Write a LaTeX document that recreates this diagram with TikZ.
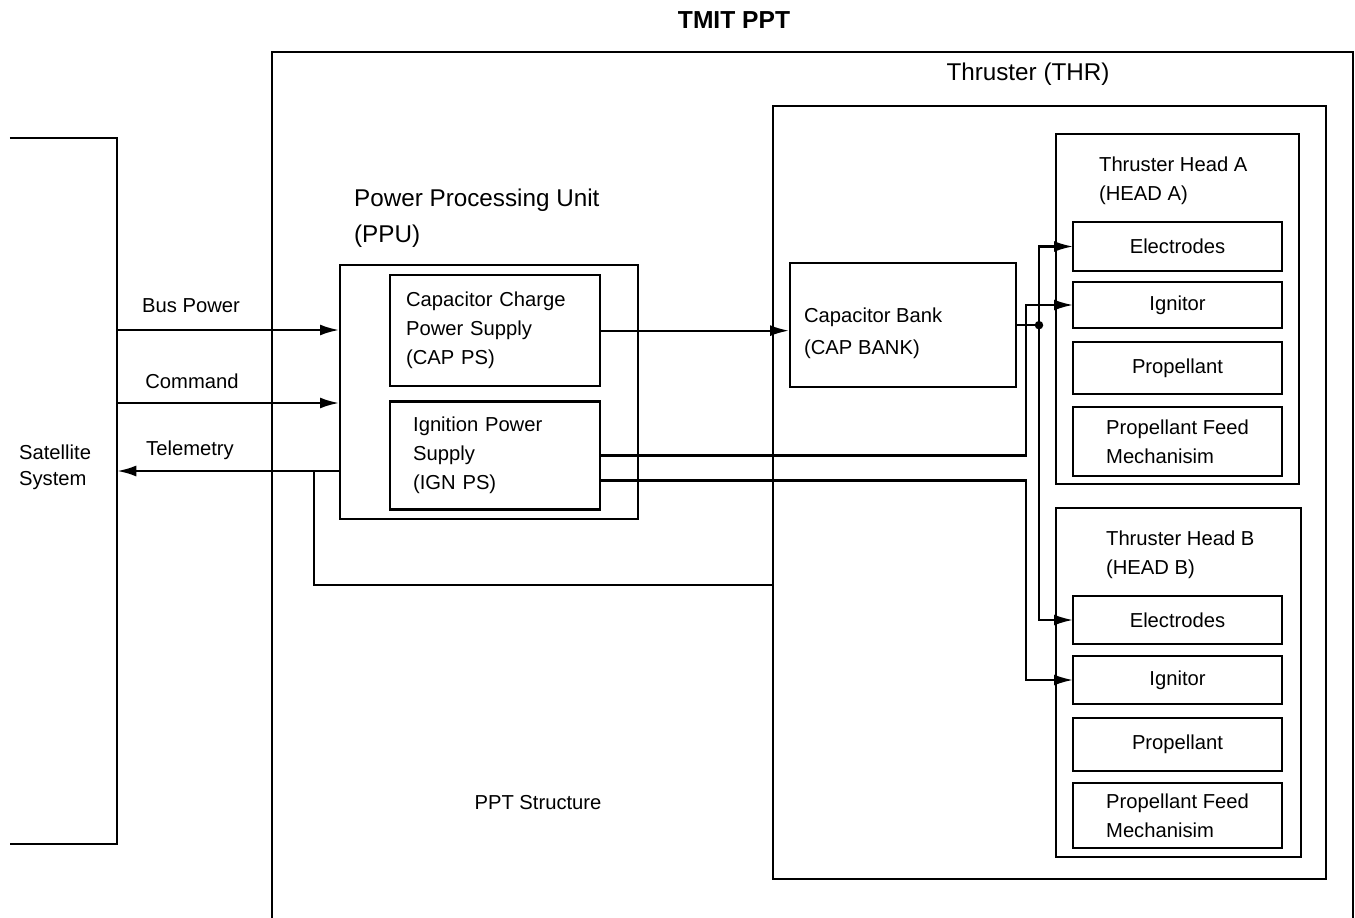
\documentclass[tikz,border=0pt]{standalone}
\usepackage{fontspec}
\setmainfont{Liberation Sans}
\usetikzlibrary{arrows.meta,positioning}

\tikzset{
  blk/.style={draw, inner sep=0pt, anchor=north west},
  part/.style={draw, outer sep=0pt, minimum width=4.18cm, minimum height=0.96cm, align=left},
  txt/.style={inner sep=0pt, align=left, anchor=north west},
  bigtxt/.style={font=\fontsize{13.8}{20.5}\selectfont},
}

\begin{document}
\begin{tikzpicture}[>={Latex[length=3.8mm,width=2.2mm]}, line width=1.3pt,
  font=\fontsize{11.5}{16.5}\selectfont]
\useasboundingbox (0,0) rectangle (27.1,-18.36);

\node[font=\fontsize{14}{17}\selectfont\bfseries, anchor=base] (title) at (14.68,-0.58) {TMIT PPT};

% PPT structure (runs off the bottom)
\draw (5.44,-18.36) |- (27.06,-1.04) -- (27.06,-18.36);
\node[anchor=base] (struct) at (10.76,-16.18) {PPT Structure};

% satellite side
\node[minimum width=2.1cm, minimum height=14.08cm, inner sep=0pt, anchor=north west] (sat) at (0.2,-2.76) {};
\draw (sat.north west) -- (sat.north east) -- (sat.south east) -- (sat.south west);
\node[txt, font=\fontsize{11.5}{14.7}\selectfont] (satlbl) at (0.36,-8.87) {Satellite\\System};

% power processing unit
\node[blk, minimum width=5.96cm, minimum height=5.08cm] (ppu) at (6.78,-5.28) {};
\node[txt, bigtxt] (ppulbl) at (7.06,-3.75) {Power Processing Unit\\(PPU)};
\node[blk, minimum width=4.2cm, minimum height=2.22cm, inner xsep=0.32cm, text width=3.56cm, align=left] (cps) at (7.78,-5.48) {Capacitor Charge\\Power Supply\\(CAP PS)};
\node[blk, minimum width=4.2cm, minimum height=2.16cm, inner xsep=0.46cm, text width=3.28cm, align=left] (ign) at ([yshift=-0.26cm]cps.south west) {Ignition Power\\Supply\\(IGN PS)};

% thruster
\node[blk, minimum width=11.06cm, minimum height=15.46cm] (thr) at (15.44,-2.1) {};
\node[bigtxt, anchor=base] (thrlbl) at (20.56,-1.62) {Thruster (THR)};
\node[blk, minimum width=4.52cm, minimum height=2.48cm] (cbank) at (15.78,-5.24) {};
\node[txt, font=\fontsize{11.5}{18.1}\selectfont] (cbanklbl) at (16.06,-6.13) {Capacitor Bank\\(CAP BANK)};

% head A
\node[blk, minimum width=4.86cm, minimum height=7cm] (heada) at (21.1,-2.66) {};
\node[txt] (headalbl) at (21.96,-3.11) {Thruster Head A\\(HEAD A)};
\node[part, minimum height=0.98cm, anchor=north west] (elea) at (21.46,-4.44) {Electrodes};
\node[part, minimum height=0.92cm, below=0.22cm of elea] (igna) {Ignitor};
\node[part, minimum height=1.04cm, below=0.28cm of igna] (propa) {Propellant};
\node[part, minimum height=1.38cm, below=0.26cm of propa] (feeda) {Propellant Feed\\Mechanisim};

% head B
\node[blk, minimum width=4.9cm, minimum height=6.98cm] (headb) at (21.1,-10.14) {};
\node[txt] (headblbl) at (22.1,-10.59) {Thruster Head B\\(HEAD B)};
\node[part, anchor=north west] (eleb) at (21.46,-11.92) {Electrodes};
\node[part, below=0.24cm of eleb] (ignb) {Ignitor};
\node[part, minimum height=1.06cm, below=0.28cm of ignb] (propb) {Propellant};
\node[part, minimum height=1.3cm, below=0.24cm of propb] (feedb) {Propellant Feed\\Mechanisim};

% satellite interface
\coordinate (bus) at (0,-6.6);
\coordinate (cmd) at (0,-8.06);
\coordinate (tlm) at (0,-9.42);
\draw[->] (sat.east |- bus) -- (ppu.west |- bus);
\draw[->] (sat.east |- cmd) -- (ppu.west |- cmd);
\draw[->] (ppu.west |- tlm) -- (sat.east |- tlm);
\node[anchor=base] (buslbl) at (3.82,-6.24) {Bus Power};
\node[anchor=base] (cmdlbl) at (3.84,-7.76) {Command};
\node[anchor=base] (tlmlbl) at (3.8,-9.1) {Telemetry};

% structure return to thruster
\coordinate (tap) at (6.28,-9.42);
\coordinate (gnd) at (0,-11.7);
\draw (tap) |- (thr.west |- gnd);

% charge line
\draw[->] (cps.east) -- (cps.east -| cbank.west);

% ignition lines
\coordinate (ignbus) at (20.52,0);
\draw[->] (ign.east) -- (ign.east -| ignbus) |- (igna.west);
\draw[->] ([yshift=-0.5cm]ign.east) -- ([yshift=-0.5cm]ign.east -| ignbus) |- (ignb.west);

% discharge lines
\coordinate (capbus) at (20.78,0);
\node[circle, fill, inner sep=0pt, minimum size=0.17cm] (jct) at (cbank.east -| capbus) {};
\draw (cbank.east) -- (jct.center);
\draw[->] (jct.center) |- (elea.west);
\draw[->] (jct.center) |- (eleb.west);

\end{tikzpicture}
\end{document}
